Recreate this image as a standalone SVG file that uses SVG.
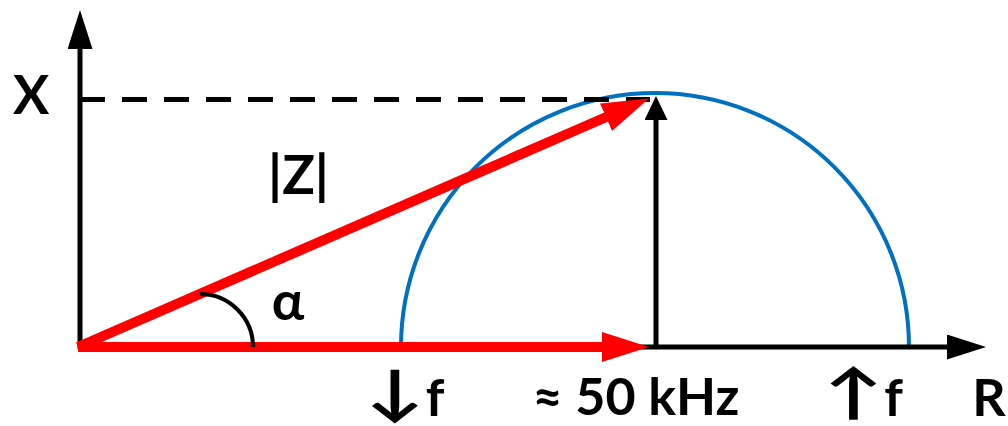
<svg xmlns="http://www.w3.org/2000/svg" width="1008" height="426" viewBox="0 0 1008 426">
  <style>
    .lbl { font-family: Lato, "DejaVu Sans", sans-serif; font-weight: bold; font-size: 54px; fill: #000; text-anchor: middle; }
    .bot { font-size: 52px; }
    .arr { font-family: Lato, "DejaVu Sans", sans-serif; font-weight: bold; font-size: 60px; fill: #000; text-anchor: middle; }
    .ax { stroke: #000; stroke-width: 5; fill: none; }
    .red { stroke: #FF0000; stroke-width: 10; fill: none; }
  </style>
  <defs>
    <marker id="redHead" markerUnits="userSpaceOnUse" viewBox="0 0 47 30" refX="1" refY="15" markerWidth="47" markerHeight="30" orient="auto">
      <path d="M0,0 L47,15 L0,30 Z" fill="#FF0000"/>
    </marker>
    <marker id="axHead" markerUnits="userSpaceOnUse" viewBox="0 0 39 25" refX="1" refY="12.5" markerWidth="39" markerHeight="25" orient="auto">
      <path d="M0,0 L39,12.5 L0,25 Z" fill="#000"/>
    </marker>
    <marker id="smallHead" markerUnits="userSpaceOnUse" viewBox="0 0 24 23" refX="1" refY="11.5" markerWidth="24" markerHeight="23" orient="auto">
      <path d="M0,0 L24,11.5 L0,23 Z" fill="#000"/>
    </marker>
  </defs>

  <g id="semicircle">
    <path d="M401,347 A254,254 0 0 1 909,347" fill="none" stroke="#0070C0" stroke-width="4"/>
  </g>

  <g id="connectors">
    <line id="x-level" x1="80" y1="99.5" x2="650" y2="99.5" stroke="#000" stroke-width="5" stroke-dasharray="25 17"/>
    <line id="r-axis" class="ax" x1="78" y1="347" x2="948" y2="347" marker-end="url(#axHead)"/>
    <line id="x-axis" class="ax" x1="80" y1="349" x2="80" y2="48" marker-end="url(#axHead)"/>
    <line id="r-vector" class="red" x1="78" y1="347" x2="603" y2="347" marker-end="url(#redHead)"/>
    <line id="z-vector" class="red" x1="78" y1="347" x2="606.9" y2="116.75" marker-end="url(#redHead)"/>
    <line id="x-vector" class="ax" x1="656" y1="347" x2="656" y2="119" marker-end="url(#smallHead)"/>
    <path id="angle-arc" d="M200,294 A53,53 0 0 1 253,347" fill="none" stroke="#000" stroke-width="4"/>
  </g>

  <g id="label-X"><text class="lbl" x="31" y="114">X</text></g>
  <g id="label-Z"><text class="lbl" x="298.5" y="194">|Z|</text></g>
  <g id="label-alpha"><text class="lbl" x="288" y="320">α</text></g>
  <g id="label-low-f">
    <text class="arr" transform="scale(1.3 1)" x="303.8" y="413">↓</text>
    <text class="lbl bot" x="435" y="416">f</text>
  </g>
  <g id="label-50khz"><text class="lbl bot" x="636" y="415">≈ 50 kHz</text></g>
  <g id="label-high-f">
    <text class="arr" transform="scale(1.3 1)" x="656.5" y="413">↑</text>
    <text class="lbl bot" x="893.5" y="416">f</text>
  </g>
  <g id="label-R"><text class="lbl bot" x="989" y="416">R</text></g>
</svg>
